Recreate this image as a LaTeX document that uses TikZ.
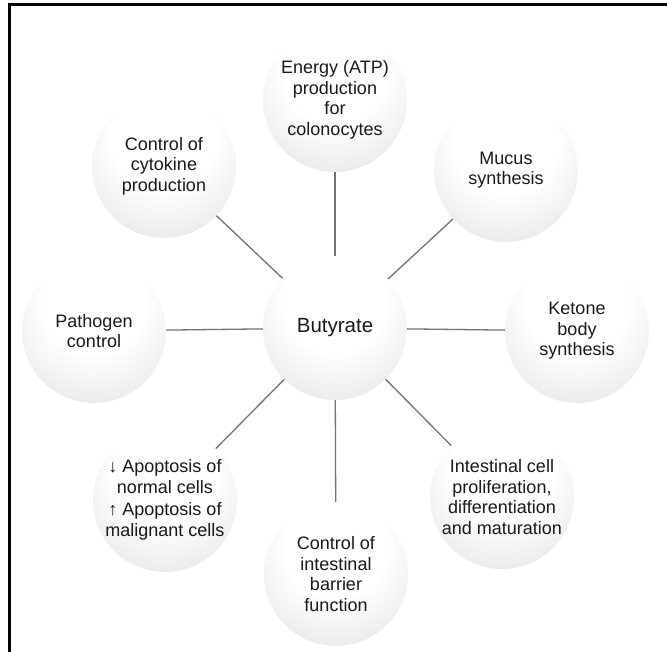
\documentclass[tikz,border=0pt]{standalone}
\usepackage{fontspec}
\setmainfont{Liberation Sans}
\pgfdeclareradialshading{sphere}{\pgfpoint{0bp}{14bp}}{color(0bp)=(white); color(18bp)=(white); color(38bp)=(gray!22); color(50bp)=(gray!40); color(58bp)=(gray!52); color(66bp)=(gray!65)}
\tikzset{
  bubble/.style={circle, minimum size=144pt, inner sep=0pt, shading=sphere, align=center,
    text=black!90, font=\fontsize{18}{20.5}\selectfont},
  link/.style={draw=black!55, line width=1.3pt}
}
\begin{document}
\begin{tikzpicture}[x=1pt,y=-1pt]
\useasboundingbox (0,0) rectangle (667,652);
\draw[line width=3pt] (9.5,5) -- (667,5);
\draw[line width=2.5pt] (9.5,3.5) -- (9.5,652);
\node[bubble] (but) at (335,328) {\fontsize{20.5}{22}\selectfont Butyrate};
\node[bubble] (atp) at (335,100) {Energy (ATP)\\production\\for\\colonocytes};
\node[bubble] (cyt) at (164,166) {Control of\\cytokine\\production};
\node[bubble] (muc) at (506,170) {Mucus\\synthesis};
\node[bubble] (pat) at (94,331) {Pathogen\\control};
\node[bubble] (ket) at (577,331) {Ketone\\body\\synthesis};
\node[bubble] (apo) at (165,500) {↓ Apoptosis of\\normal cells\\[2pt]↑ Apoptosis of\\malignant cells};
\node[bubble] (pro) at (502,497) {Intestinal cell\\proliferation,\\differentiation\\and maturation};
\node[bubble] (bar) at (336,574) {Control of\\intestinal\\barrier\\function};
\foreach \n in {atp,cyt,muc,pat,ket,apo,pro,bar}
  \draw[link] (but) -- (\n);
\end{tikzpicture}
\end{document}
